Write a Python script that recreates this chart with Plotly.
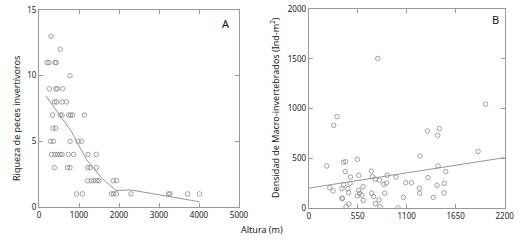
import plotly.graph_objects as go

# Panel A: riqueza de peces invertívoros vs altura
a_alt = [300, 530, 200, 250, 400, 430, 775,
         260, 420, 460, 590,
         385, 440, 575, 690,
         340, 530, 575, 740, 790, 840, 1135,
         350, 415,
         290, 360, 775, 975, 1065,
         315, 400, 460, 525, 575, 735, 865, 1225, 1435,
         385, 715, 775, 1215, 1275, 1435,
         1215, 1310, 1375, 1450, 1500, 1860, 1940,
         940, 1085, 1810, 1865, 1935, 2300, 3235, 3275, 3715, 4010]
a_riq = [13, 12, 11, 11, 11, 11, 10,
         9, 9, 9, 9,
         8, 8, 8, 8,
         7, 7, 7, 7, 7, 7, 7,
         6, 6,
         5, 5, 5, 5, 5,
         4, 4, 4, 4, 4, 4, 4, 4, 4,
         3, 3, 3, 3, 3, 3,
         2, 2, 2, 2, 2, 2, 2,
         1, 1, 1, 1, 1, 1, 1, 1, 1, 1]
a_fit_x = [175, 525, 800, 1190, 1570, 1925, 2290, 3250, 4010]
a_fit_y = [8.45, 7.0, 5.8, 3.6, 2.2, 1.25, 1.3, 0.8, 0.4]

# Panel B: densidad de macro-invertebrados vs altura
b_alt = [775, 1985, 318, 281, 1332, 1467, 1448, 1250, 1901, 202, 389, 415, 546,
         1452, 411, 468, 561, 703, 715, 748, 793, 883, 842, 872, 980, 1089, 1156,
         1339, 1538, 236, 273, 374, 393, 441, 449, 464, 374, 378, 419, 453, 561,
         572, 546, 610, 598, 613, 707, 729, 748, 789, 800, 853, 1003, 1063, 1242,
         1246, 1441, 1523, 1399, 1519]
b_den = [1505, 1045, 919, 832, 775, 799, 731, 523, 570, 423, 460, 466, 490,
         423, 366, 312, 329, 372, 315, 289, 279, 329, 238, 252, 312, 255, 255,
         305, 366, 205, 171, 195, 235, 195, 154, 248, 100, 94, 13, 40, 178,
         148, 121, 215, 131, 77, 148, 114, 44, 81, 13, 148, 0, 107, 198,
         148, 228, 248, 107, 151]
b_fit_x = [0, 2200]
b_fit_y = [200, 507]

a_xticks = [0, 1000, 2000, 3000, 4000, 5000]
a_yticks = [0, 5, 10, 15]
b_xticks = [0, 550, 1100, 1650, 2200]
b_yticks = [0, 500, 1000, 1500, 2000]

FONT = "Noto Sans"
GRAY = "#8a8a8a"
AX = "#9a9a9a"

W, H = 524, 242

fig = go.Figure()
mk = dict(symbol="circle-open", size=4.5, color=GRAY, line=dict(width=0.8, color=GRAY))
fig.add_trace(go.Scatter(x=a_alt, y=a_riq, mode="markers", marker=mk, xaxis="x", yaxis="y", showlegend=False))
fig.add_trace(go.Scatter(x=a_fit_x, y=a_fit_y, mode="lines", line=dict(color=GRAY, width=0.9), xaxis="x", yaxis="y", showlegend=False))
fig.add_trace(go.Scatter(x=b_alt, y=b_den, mode="markers", marker=mk, xaxis="x2", yaxis="y2", showlegend=False))
fig.add_trace(go.Scatter(x=b_fit_x, y=b_fit_y, mode="lines", line=dict(color=GRAY, width=0.9), xaxis="x2", yaxis="y2", showlegend=False))

axcommon = dict(showgrid=False, zeroline=False, showline=True, linecolor=AX, linewidth=1,
                mirror="ticks", ticks="inside", ticklen=4, tickcolor=AX, automargin=False,
                tickfont=dict(family=FONT, size=8, color="#222"))


def px_ann(text, x, y, size=9, angle=0, color="#222"):
    return dict(text=text, x=x / W, y=1 - y / H, xref="paper", yref="paper", showarrow=False,
                xanchor="center", yanchor="middle",
                textangle=angle, font=dict(family=FONT, size=size, color=color))


fig.update_layout(
    width=W, height=H,
    margin=dict(l=0, r=0, t=0, b=0, autoexpand=False),
    paper_bgcolor="white", plot_bgcolor="white",
    font=dict(family=FONT, size=9, color="#222"),
    xaxis=dict(domain=[39 / W, 239 / W], range=[0, 5000], tickvals=a_xticks, anchor="y", **axcommon),
    yaxis=dict(domain=[35 / H, 232 / H], range=[0, 15], tickvals=a_yticks, anchor="x", **axcommon),
    xaxis2=dict(domain=[308.7 / W, 504.7 / W], range=[0, 2200], tickvals=b_xticks, anchor="y2", **axcommon),
    yaxis2=dict(domain=[34 / H, 232.7 / H], range=[0, 2000], tickvals=b_yticks, anchor="x2", **axcommon),
    annotations=[
        px_ann("A", 226, 23, size=11, color="#111"),
        px_ann("B", 495, 20, size=11, color="#111"),
        px_ann("Altura (m)", 262, 229),
        px_ann("Riqueza de peces invertívoros", 16, 119, angle=-90),
        px_ann("Densidad de Macro-invertebrados (Ind-m<sup>2</sup>)", 275, 108, angle=-90),
    ],
)

fig.write_html("out.html", config={"displayModeBar": False, "staticPlot": True},
               post_script="document.body.style.margin='0';document.body.style.overflow='hidden';")
